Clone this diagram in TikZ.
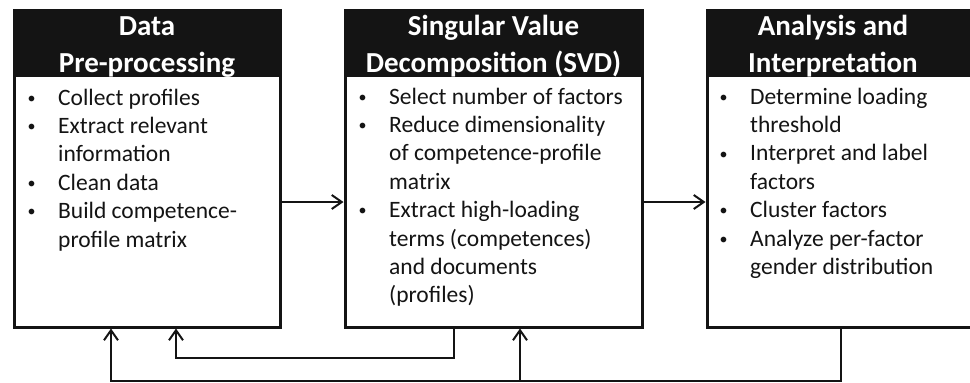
\documentclass[tikz,border=0pt]{standalone}
\usepackage{fontspec}
\setmainfont{Carlito}
\usetikzlibrary{arrows.meta,calc}
\definecolor{ink}{HTML}{141414}
\newcommand\bitem{\makebox[33pt][l]{\hspace{2.5pt}\raisebox{1.8pt}{\fontsize{16}{16}\selectfont\textbullet}}}
\begin{document}
\begin{tikzpicture}[x=1pt,y=-1pt,
  box/.style={draw=ink, line width=3pt, fill=white, minimum width=#1, minimum height=317pt, inner sep=0pt},
  hdrfill/.style={fill=ink},
  hdr/.style={text=white, font=\fontsize{29}{37}\selectfont\bfseries, inner sep=0pt, anchor=base},
  body/.style={text=ink, font=\fontsize{23.5}{28.4}\selectfont, inner sep=0pt, anchor=base west},
  conn/.style={draw=ink, line width=2pt},
  arr/.style={conn, -{Straight Barb[length=10pt,width=14pt]}}]
\clip (0,0) rectangle (970,383);
\fill[white] (0,0) rectangle (970,383);

% boxes
\node[box=266pt] (b1) at (147,168.5) {};
\node[box=297pt] (b2) at (493.5,168.5) {};
\node[box=297pt] (b3) at (855.5,168.5) {};

% header bands
\fill[hdrfill] (b1.north west) rectangle (b1.east |- 0,77);
\fill[hdrfill] (b2.north west) rectangle (b2.east |- 0,77);
\fill[hdrfill] (b3.north west) rectangle (b3.east |- 0,77);

% header texts
\node[hdr] (h1) at (147,35) {\begin{tabular}[t]{@{}c@{}}Data\\Pre-processing\end{tabular}};
\node[hdr] (h2) at (493.5,35) {\begin{tabular}[t]{@{}c@{}}Singular Value\\Decomposition (SVD)\end{tabular}};
\node[hdr] (h3) at (833,35) {\begin{tabular}[t]{@{}c@{}}Analysis and\\Interpretation\end{tabular}};

% body texts
\node[body] (t1) at (25,105) {\begin{tabular}[t]{@{}l@{}l@{}}
\bitem & Collect profiles\\
\bitem & Extract relevant\\
 & information\\
\bitem & Clean data\\
\bitem & Build competence-\\
 & profile matrix
\end{tabular}};
\node[body] (t2) at (356,104) {\begin{tabular}[t]{@{}l@{}l@{}}
\bitem & Select number of factors\\
\bitem & Reduce dimensionality\\
 & of competence-profile\\
 & matrix\\
\bitem & Extract high-loading\\
 & terms (competences)\\
 & and documents\\
 & (profiles)
\end{tabular}};
\node[body] (t3) at (717,104) {\begin{tabular}[t]{@{}l@{}l@{}}
\bitem & Determine loading\\
 & threshold\\
\bitem & Interpret and label\\
 & factors\\
\bitem & Cluster factors\\
\bitem & Analyze per-factor\\
 & gender distribution
\end{tabular}};

% forward arrows
\draw[arr] (b1.east |- 0,202) -- (b2.west |- 0,202);
\draw[arr] (b2.east |- 0,202) -- (b3.west |- 0,202);

% feedback loops
\coordinate (c1) at (454,358);
\coordinate (c2) at (176,358);
\draw[arr] (b2.south -| c1) -- (c1) -- (c2) -- (b1.south -| c2);

\coordinate (d1) at (841,381);
\coordinate (d2) at (111,381);
\coordinate (d3) at (520,381);
\draw[arr] (b3.south -| d1) -- (d1) -- (d2) -- (b1.south -| d2);
\draw[arr] (d3) -- (b2.south -| d3);
\end{tikzpicture}
\end{document}
